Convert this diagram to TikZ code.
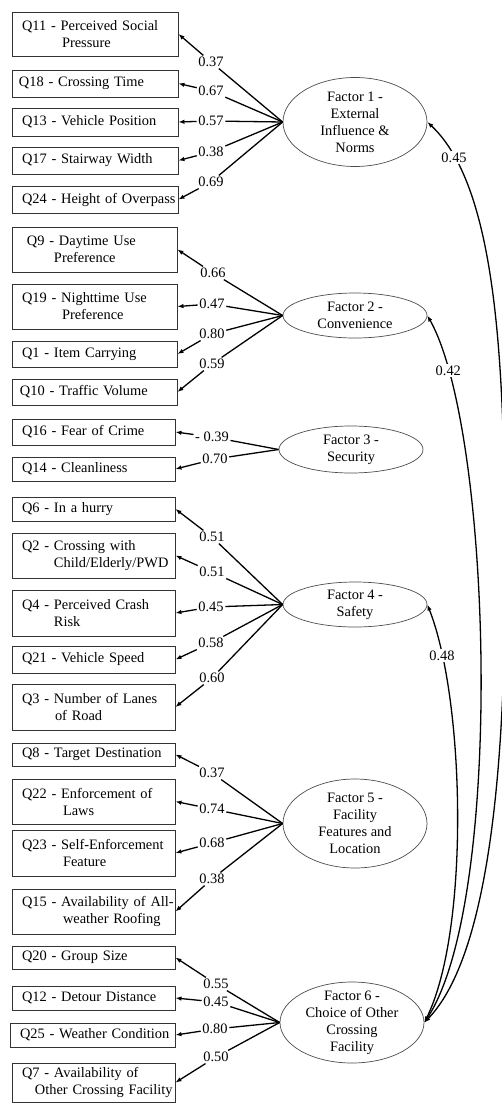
\documentclass[tikz,border=0pt]{standalone}
\usepackage{fontspec}
\setmainfont{Liberation Serif}
\usetikzlibrary{shapes.geometric,arrows.meta}
\begin{document}
\begin{tikzpicture}[x=1pt,y=-1pt,
  every node/.style={font=\fontsize{14.4}{17}\selectfont},
  qbox/.style={draw=black!80, line width=0.9pt, rectangle, inner xsep=10pt, inner ysep=0pt, align=left},
  fac/.style={draw=black!70, line width=0.7pt, ellipse, inner sep=-4pt, minimum width=144pt, align=center},
  lab/.style={inner sep=1.5pt, fill=white},
  ld/.style={line width=1.3pt},
  la/.style={line width=1.3pt, -{Latex[length=6pt,width=4.5pt]}},
  cov/.style={line width=1.3pt, {Latex[length=6pt,width=4.5pt]}-{Latex[length=6pt,width=4.5pt]}}
]
\useasboundingbox (0,0) rectangle (501,1103);

% ---- boxes, factor 1
\node[qbox, text width=146pt, minimum height=44pt] (q11) at (95,34) {\mbox{Q11 - Perceived Social}\\\hspace*{40pt}Pressure};
\node[qbox, text width=146pt, minimum height=27pt] (q18) at (95,83.5) {\mbox{\hspace*{-3pt}Q18 - Crossing Time}};
\node[qbox, text width=146pt, minimum height=28pt] (q13) at (95,122) {\mbox{Q13 - Vehicle Position}};
\node[qbox, text width=146pt, minimum height=27pt] (q17) at (95,160.5) {\mbox{Q17 - Stairway Width}};
\node[qbox, text width=146pt, minimum height=27pt] (q24) at (95,199.5) {\mbox{Q24 - Height of Overpass}};
% ---- factor 2
\node[qbox, text width=145pt, minimum height=45pt] (q9) at (94.5,249.5) {\mbox{\hspace*{5pt}Q9 - Daytime Use}\\\hspace*{32pt}Preference};
\node[qbox, text width=145pt, minimum height=45pt] (q19) at (94.5,306.5) {\mbox{Q19 - Nighttime Use}\\\hspace*{40pt}Preference};
\node[qbox, text width=145pt, minimum height=26pt] (q1) at (94.5,354) {\mbox{Q1 - Item Carrying}};
\node[qbox, text width=145pt, minimum height=26pt] (q10) at (94.5,392) {\mbox{\hspace*{-2pt}Q10 - Traffic Volume}};
% ---- factor 3
\node[qbox, text width=143pt, minimum height=26pt] (q16) at (93.5,432) {\mbox{Q16 - Fear of Crime}};
\node[qbox, text width=143pt, minimum height=24pt] (q14) at (93.5,469) {\mbox{Q14 - Cleanliness}};
% ---- factor 4
\node[qbox, text width=143pt, minimum height=24pt] (q6) at (93.5,509) {\mbox{Q6 - In a hurry}};
\node[qbox, text width=143pt, minimum height=45pt] (q2) at (93.5,555.5) {\mbox{Q2 - Crossing with}\\\hspace*{32pt}\mbox{Child/Elderly/PWD}};
\node[qbox, text width=143pt, minimum height=46pt] (q4) at (93.5,613) {\mbox{Q4 - Perceived Crash}\\\hspace*{32pt}Risk};
\node[qbox, text width=143pt, minimum height=27pt] (q21) at (93.5,659.5) {\mbox{Q21 - Vehicle Speed}};
\node[qbox, text width=143pt, minimum height=46pt] (q3) at (93.5,707) {\mbox{Q3 - Number of Lanes}\\\hspace*{33pt}of Road};
% ---- factor 5
\node[qbox, text width=143pt, minimum height=23pt] (q8) at (93.5,754.5) {\mbox{Q8 - Target Destination}};
\node[qbox, text width=143pt, minimum height=45pt] (q22) at (93.5,801.5) {\mbox{Q22 - Enforcement of}\\\hspace*{41pt}Laws};
\node[qbox, text width=143pt, minimum height=46pt] (q23) at (93.5,853) {\mbox{Q23 - Self-Enforcement}\\\hspace*{41pt}Feature};
\node[qbox, text width=143pt, minimum height=45pt] (q15) at (93.5,911.5) {\mbox{Q15 - Availability of All-}\\\hspace*{41pt}\mbox{weather Roofing}};
% ---- factor 6
\node[qbox, text width=143pt, minimum height=23pt] (q20) at (93.5,957.5) {\mbox{Q20 - Group Size}};
\node[qbox, text width=143pt, minimum height=24pt] (q12) at (93.5,998) {\mbox{Q12 - Detour Distance}};
\node[qbox, text width=145pt, minimum height=24pt] (q25) at (92.5,1035) {\mbox{Q25 - Weather Condition}};
\node[qbox, text width=143pt, minimum height=39pt] (q7) at (93.5,1082.5) {\mbox{Q7 - Availability of}\\\hspace*{13pt}\mbox{Other Crossing Facility}};

% ---- factors
\node[fac, minimum height=89pt] (f1) at (355,122) {Factor 1 -\\External\\Influence \&\\Norms};
\node[fac, minimum height=45pt] (f2) at (355,315.5) {Factor 2 -\\Convenience};
\node[fac, minimum height=47pt] (f3) at (351,449.5) {Factor 3 -\\Security};
\node[fac, minimum height=45pt] (f4) at (355,604.5) {Factor 4 -\\Safety};
\node[fac, minimum height=89pt] (f5) at (355,823.5) {Factor 5 -\\Facility\\Features and\\Location};
\node[fac, minimum height=81pt, inner sep=-4.5pt] (f6) at (352,1022.5) {Factor 6 -\\Choice of Other\\Crossing\\Facility};

% ---- loading labels
\node[lab] (l11) at (211,62) {0.37};
\node[lab] (l18) at (211,91) {0.67};
\node[lab] (l13) at (211,121) {0.57};
\node[lab] (l17) at (211,152) {0.38};
\node[lab] (l24) at (211,182) {0.69};
\node[lab] (l9) at (213,273) {0.66};
\node[lab] (l19) at (212,304) {0.47};
\node[lab] (l1) at (212,334) {0.80};
\node[lab] (l10) at (212,364) {0.59};
\node[lab] (l16) at (212,437) {- 0.39};
\node[lab] (l14) at (215,459) {0.70};
\node[lab] (l6) at (212,537) {0.51};
\node[lab] (l2) at (212,572) {0.51};
\node[lab] (l4) at (211,607) {0.45};
\node[lab] (l21) at (211,643) {0.58};
\node[lab] (l3) at (212,678) {0.60};
\node[lab] (l8) at (212,773) {0.37};
\node[lab] (l22) at (212,809) {0.74};
\node[lab] (l23) at (212,843) {0.68};
\node[lab] (l15) at (212,879) {0.38};
\node[lab] (l20) at (216,984) {0.55};
\node[lab] (l12) at (216,1002) {0.45};
\node[lab] (l25) at (215,1029) {0.80};
\node[lab] (l7) at (216,1057) {0.50};

% ---- loadings
\foreach \f/\l/\q in {f1/l11/q11, f1/l18/q18, f1/l13/q13, f1/l17/q17, f1/l24/q24,
                      f2/l9/q9, f2/l19/q19, f2/l1/q1, f2/l10/q10,
                      f3/l16/q16, f3/l14/q14,
                      f4/l6/q6, f4/l2/q2, f4/l4/q4, f4/l21/q21, f4/l3/q3,
                      f5/l8/q8, f5/l22/q22, f5/l23/q23, f5/l15/q15,
                      f6/l20/q20, f6/l12/q12, f6/l25/q25, f6/l7/q7}{
  \draw[ld] (\f.west) -- (\l);
  \draw[la] (\l) -- (\q.east);
}

% ---- correlations
\coordinate (cm1) at (505,580);
\draw[cov] (f6.east) .. controls (490,955) and (505,760) .. (cm1)
  .. controls (505,380) and (500,190) .. node[lab, pos=0.86] {0.45} (f1.east);
\draw[cov] (f6.east) .. controls (505,900) and (492,430) .. node[lab, pos=0.88] {0.42} (f2.east);
\draw[cov] (f6.east) .. controls (470,930) and (465,700) .. node[lab, pos=0.85] {0.48} (f4.east);
\end{tikzpicture}
\end{document}
